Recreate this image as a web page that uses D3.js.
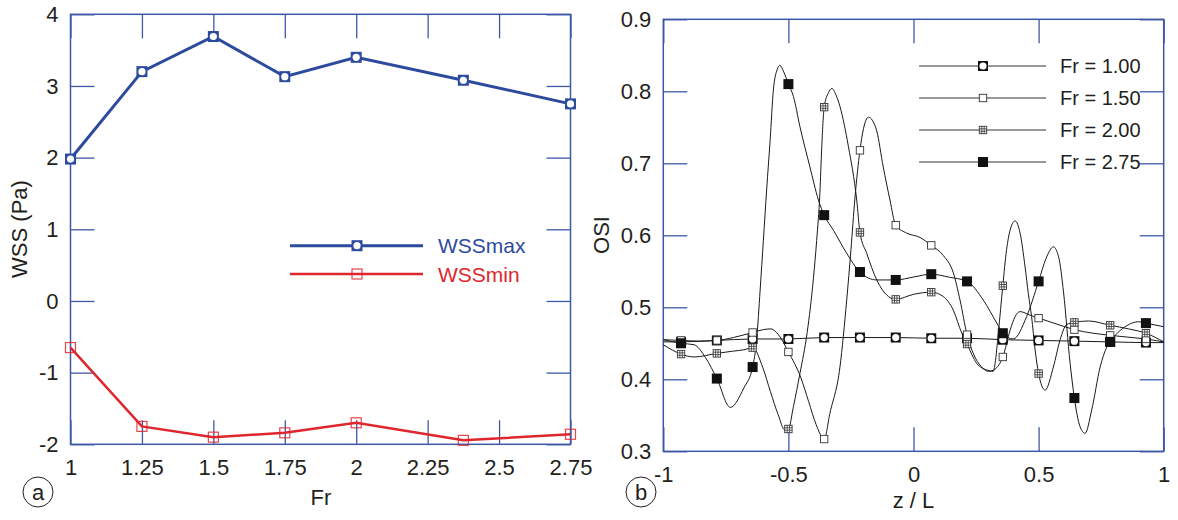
<!DOCTYPE html>
<html>
<head>
<meta charset="utf-8">
<script src="https://cdn.jsdelivr.net/npm/d3@7"></script>
<style>
  body { margin: 0; background: #fff; }
  text { font-family: "Liberation Sans", Arial, Helvetica, sans-serif; fill: #231f20; }
</style>
</head>
<body>
<script>
// ---------- Panel (a) data ----------
const frValues = [1, 1.25, 1.5, 1.75, 2, 2.375, 2.75];
const wssMax = [1.98, 3.20, 3.69, 3.13, 3.40, 3.08, 2.75];
const wssMin = [-0.65, -1.75, -1.90, -1.84, -1.70, -1.945, -1.86];
const frTicks = [1, 1.25, 1.5, 1.75, 2, 2.25, 2.5, 2.75];
const frTickLabels = ["1", "1.25", "1.5", "1.75", "2", "2.25", "2.5", "2.75"];
const wssTicks = [-2, -1, 0, 1, 2, 3, 4];
const wssTickLabels = ["-2", "-1", "0", "1", "2", "3", "4"];
const legendA = ["WSSmax", "WSSmin"];

// ---------- Panel (b) data ----------
const zTicks = [-1, -0.5, 0, 0.5, 1];
const zTickLabels = ["-1", "-0.5", "0", "0.5", "1"];
const osiTicks = [0.3, 0.4, 0.5, 0.6, 0.7, 0.8, 0.9];
const osiTickLabels = ["0.3", "0.4", "0.5", "0.6", "0.7", "0.8", "0.9"];
const legendB = ["Fr = 1.00", "Fr = 1.50", "Fr = 2.00", "Fr = 2.75"];

const markerZ = [-0.929, -0.786, -0.643, -0.5, -0.357, -0.214, -0.071, 0.071, 0.214, 0.357, 0.5, 0.643, 0.786, 0.929];
const markFr100 = [0.452, 0.454, 0.456, 0.456, 0.458, 0.458, 0.458, 0.457, 0.457, 0.455, 0.454, 0.453, 0.452, 0.451];
const markFr150 = [0.454, 0.454, 0.465, 0.438, 0.317, 0.718, 0.614, 0.586, 0.462, 0.431, 0.485, 0.469, 0.461, 0.456];
const markFr200 = [0.435, 0.436, 0.444, 0.331, 0.778, 0.604, 0.511, 0.521, 0.449, 0.530, 0.408, 0.479, 0.475, 0.464];
const markFr275 = [0.450, 0.401, 0.417, 0.810, 0.628, 0.549, 0.538, 0.546, 0.536, 0.464, 0.536, 0.374, 0.452, 0.478];

const curveFr100 = [[-1,0.452],[-0.929,0.452],[-0.786,0.454],[-0.643,0.456],[-0.5,0.456],[-0.357,0.458],[-0.214,0.458],[-0.071,0.458],[0.071,0.457],[0.214,0.457],[0.357,0.455],[0.5,0.454],[0.643,0.453],[0.786,0.452],[0.929,0.451],[1,0.451]];
const curveFr150 = [[-1,0.455],[-0.929,0.454],[-0.857,0.453],[-0.786,0.454],[-0.72,0.458],[-0.643,0.465],[-0.6,0.469],[-0.57,0.47],[-0.54,0.462],[-0.5,0.438],[-0.45,0.402],[-0.419,0.369],[-0.389,0.337],[-0.357,0.317],[-0.334,0.353],[-0.294,0.417],[-0.267,0.51],[-0.25,0.58],[-0.234,0.652],[-0.214,0.718],[-0.2,0.748],[-0.18,0.764],[-0.165,0.76],[-0.147,0.745],[-0.121,0.695],[-0.094,0.649],[-0.071,0.614],[-0.027,0.603],[0.026,0.597],[0.071,0.586],[0.119,0.572],[0.159,0.548],[0.186,0.51],[0.214,0.462],[0.24,0.435],[0.27,0.418],[0.3,0.411],[0.325,0.414],[0.357,0.431],[0.386,0.468],[0.406,0.487],[0.426,0.494],[0.466,0.489],[0.5,0.485],[0.57,0.477],[0.643,0.469],[0.786,0.461],[0.929,0.456],[1,0.452]];
const curveFr200 = [[-1,0.448],[-0.929,0.435],[-0.877,0.431],[-0.786,0.436],[-0.724,0.439],[-0.678,0.441],[-0.643,0.444],[-0.602,0.416],[-0.572,0.383],[-0.541,0.351],[-0.515,0.33],[-0.5,0.331],[-0.48,0.362],[-0.454,0.408],[-0.425,0.465],[-0.4,0.54],[-0.387,0.593],[-0.374,0.66],[-0.367,0.72],[-0.357,0.778],[-0.34,0.798],[-0.326,0.804],[-0.31,0.795],[-0.294,0.779],[-0.26,0.723],[-0.227,0.649],[-0.214,0.604],[-0.187,0.575],[-0.147,0.538],[-0.1,0.515],[-0.071,0.511],[0,0.518],[0.071,0.521],[0.119,0.515],[0.159,0.496],[0.193,0.464],[0.214,0.449],[0.253,0.422],[0.293,0.413],[0.319,0.411],[0.326,0.422],[0.339,0.464],[0.357,0.53],[0.372,0.58],[0.386,0.607],[0.406,0.62],[0.426,0.603],[0.446,0.556],[0.459,0.519],[0.472,0.487],[0.486,0.441],[0.5,0.408],[0.526,0.385],[0.559,0.417],[0.586,0.455],[0.612,0.476],[0.643,0.479],[0.7,0.481],[0.786,0.475],[0.86,0.47],[0.929,0.464],[1,0.452]];
const curveFr275 = [[-1,0.455],[-0.929,0.450],[-0.877,0.448],[-0.831,0.430],[-0.786,0.401],[-0.732,0.361],[-0.678,0.388],[-0.643,0.417],[-0.627,0.455],[-0.613,0.524],[-0.6,0.593],[-0.587,0.663],[-0.573,0.732],[-0.56,0.802],[-0.545,0.83],[-0.534,0.836],[-0.52,0.828],[-0.5,0.81],[-0.48,0.793],[-0.454,0.751],[-0.414,0.695],[-0.38,0.649],[-0.357,0.628],[-0.32,0.607],[-0.267,0.575],[-0.214,0.549],[-0.147,0.538],[-0.071,0.538],[0,0.542],[0.071,0.546],[0.14,0.542],[0.214,0.536],[0.279,0.51],[0.333,0.478],[0.357,0.464],[0.399,0.456],[0.452,0.487],[0.5,0.536],[0.53,0.568],[0.559,0.584],[0.58,0.57],[0.6,0.52],[0.626,0.422],[0.643,0.374],[0.665,0.335],[0.686,0.325],[0.712,0.357],[0.746,0.417],[0.773,0.445],[0.786,0.452],[0.85,0.474],[0.9,0.48],[0.929,0.478],[1,0.473]];

// ---------- Drawing ----------
const AXIS = "#3e58a8";
const BLUE = "#2d4b9e";
const RED = "#e0262d";
const INK = "#231f20";
const FONT = 22;

const svg = d3.select("body").append("svg").attr("width", 1178).attr("height", 520);

function styleAxis(sel) {
  sel.select(".domain").remove();
  sel.selectAll(".tick line").attr("stroke", AXIS).attr("stroke-width", 1.3);
  sel.selectAll(".tick text").attr("font-size", FONT).attr("fill", INK)
     .style("font-family", '"Liberation Sans", Arial, sans-serif');
}

function frame(g, x, y, tx, ty, txl, tyl) {
  const [x0, x1] = x.range(), [y0, y1] = y.range();
  g.append("g").attr("transform", `translate(0,${y0})`)
    .call(d3.axisBottom(x).tickValues(tx).tickFormat((d, i) => txl[i]).tickSize(-24).tickPadding(15))
    .call(styleAxis);
  g.append("g").attr("transform", `translate(0,${y1})`)
    .call(d3.axisTop(x).tickValues(tx).tickFormat("").tickSize(-24))
    .call(styleAxis);
  g.append("g").attr("transform", `translate(${x0},0)`)
    .call(d3.axisLeft(y).tickValues(ty).tickFormat((d, i) => tyl[i]).tickSize(-24).tickPadding(12))
    .call(styleAxis);
  g.append("g").attr("transform", `translate(${x1},0)`)
    .call(d3.axisRight(y).tickValues(ty).tickFormat("").tickSize(-24))
    .call(styleAxis);
  g.append("rect").attr("x", x0).attr("y", y1).attr("width", x1 - x0).attr("height", y0 - y1)
    .attr("fill", "none").attr("stroke", AXIS).attr("stroke-width", 1.5);
}

// ===== Panel a =====
const xA = d3.scaleLinear().domain([1, 2.75]).range([70.5, 570.5]);
const yA = d3.scaleLinear().domain([-2, 4]).range([444.3, 14.3]);
const gA = svg.append("g");
frame(gA, xA, yA, frTicks, wssTicks, frTickLabels, wssTickLabels);

function markerMax(g, x, y) {
  g.append("rect").attr("x", x - 5.5).attr("y", y - 5.5).attr("width", 11).attr("height", 11).attr("fill", BLUE);
  g.append("circle").attr("cx", x).attr("cy", y).attr("r", 3.6).attr("fill", "#fff");
}
function markerMin(g, x, y) {
  g.append("rect").attr("x", x - 5).attr("y", y - 5).attr("width", 10).attr("height", 10)
    .attr("fill", "none").attr("stroke", RED).attr("stroke-width", 1.2).attr("opacity", 0.85);
}

const lineA = d3.line().x((d, i) => xA(frValues[i])).y(d => yA(d));
gA.append("path").datum(wssMax).attr("d", lineA).attr("fill", "none").attr("stroke", BLUE).attr("stroke-width", 3);
gA.append("path").datum(wssMin).attr("d", lineA).attr("fill", "none").attr("stroke", RED).attr("stroke-width", 2.5);
wssMax.forEach((v, i) => markerMax(gA, xA(frValues[i]), yA(v)));
wssMin.forEach((v, i) => markerMin(gA, xA(frValues[i]), yA(v)));

// legend a
const legA = gA.append("g");
[[BLUE, 3, markerMax, 245.7], [RED, 2.5, markerMin, 274]].forEach((s, i) => {
  legA.append("line").attr("x1", 290).attr("x2", 423).attr("y1", s[3]).attr("y2", s[3]).attr("stroke", s[0]).attr("stroke-width", s[1]);
  s[2](legA, 357, s[3]);
  legA.append("text").attr("x", 438).attr("y", s[3] + 7.5).attr("font-size", 21).style("fill", s[0]).text(legendA[i]);
});

gA.append("text").attr("transform", "translate(27,229) rotate(-90)").attr("text-anchor", "middle").attr("font-size", FONT).text("WSS (Pa)");
gA.append("text").attr("x", 321).attr("y", 505).attr("text-anchor", "middle").attr("font-size", FONT).text("Fr");
gA.append("circle").attr("cx", 38).attr("cy", 492).attr("r", 15).attr("fill", "none").attr("stroke", INK).attr("stroke-width", 1);
gA.append("text").attr("x", 38).attr("y", 499.5).attr("text-anchor", "middle").attr("font-size", FONT).text("a");

// ===== Panel b =====
const xB = d3.scaleLinear().domain([-1, 1]).range([663.3, 1163.7]);
const yB = d3.scaleLinear().domain([0.3, 0.9]).range([451.3, 19.3]);
const gB = svg.append("g");
frame(gB, xB, yB, zTicks, osiTicks, zTickLabels, osiTickLabels);

const LINE = "#1a1a1a";
function mk100(g, x, y) {
  g.append("rect").attr("x", x - 5).attr("y", y - 5).attr("width", 10).attr("height", 10).attr("fill", "#111");
  g.append("circle").attr("cx", x).attr("cy", y).attr("r", 3.6).attr("fill", "#fff");
}
function mk150(g, x, y) {
  g.append("rect").attr("x", x - 3.7).attr("y", y - 3.7).attr("width", 7.4).attr("height", 7.4)
    .attr("fill", "#fff").attr("stroke", "#333").attr("stroke-width", 0.9);
}
function mk200(g, x, y) {
  g.append("rect").attr("x", x - 3.7).attr("y", y - 3.7).attr("width", 7.4).attr("height", 7.4)
    .attr("fill", "#fff").attr("stroke", "#333").attr("stroke-width", 0.9);
  g.append("path").attr("d", `M${x - 1.2},${y - 3.7}V${y + 3.7}M${x + 1.2},${y - 3.7}V${y + 3.7}M${x - 3.7},${y - 1.2}H${x + 3.7}M${x - 3.7},${y + 1.2}H${x + 3.7}`)
    .attr("stroke", "#333").attr("stroke-width", 0.8).attr("fill", "none");
}
function mk275(g, x, y) {
  g.append("rect").attr("x", x - 5).attr("y", y - 5).attr("width", 10).attr("height", 10).attr("fill", "#111");
}

const lineB = d3.line().x(d => xB(d[0])).y(d => yB(d[1])).curve(d3.curveMonotoneX);
const series = [
  [curveFr100, markFr100, mk100],
  [curveFr150, markFr150, mk150],
  [curveFr200, markFr200, mk200],
  [curveFr275, markFr275, mk275]
];
series.forEach(s => {
  gB.append("path").datum(s[0]).attr("d", lineB).attr("fill", "none").attr("stroke", LINE).attr("stroke-width", 1);
});
series.forEach(s => {
  s[1].forEach((v, i) => s[2](gB, xB(markerZ[i]), yB(v)));
});

// legend b
const legB = gB.append("g");
const legY = [66, 98, 130, 162];
series.forEach((s, i) => {
  legB.append("line").attr("x1", 919).attr("x2", 1046).attr("y1", legY[i]).attr("y2", legY[i]).attr("stroke", "#333").attr("stroke-width", 1);
  s[2](legB, 983, legY[i]);
  legB.append("text").attr("x", 1060).attr("y", legY[i] + 7).attr("font-size", 20).text(legendB[i]);
});

gB.append("text").attr("transform", "translate(609,235) rotate(-90)").attr("text-anchor", "middle").attr("font-size", FONT).text("OSI");
gB.append("text").attr("x", 913.5).attr("y", 508).attr("text-anchor", "middle").attr("font-size", FONT).text("z / L");
gB.append("circle").attr("cx", 641).attr("cy", 492).attr("r", 15).attr("fill", "none").attr("stroke", INK).attr("stroke-width", 1);
gB.append("text").attr("x", 641).attr("y", 499.5).attr("text-anchor", "middle").attr("font-size", FONT).text("b");
</script>
</body>
</html>
